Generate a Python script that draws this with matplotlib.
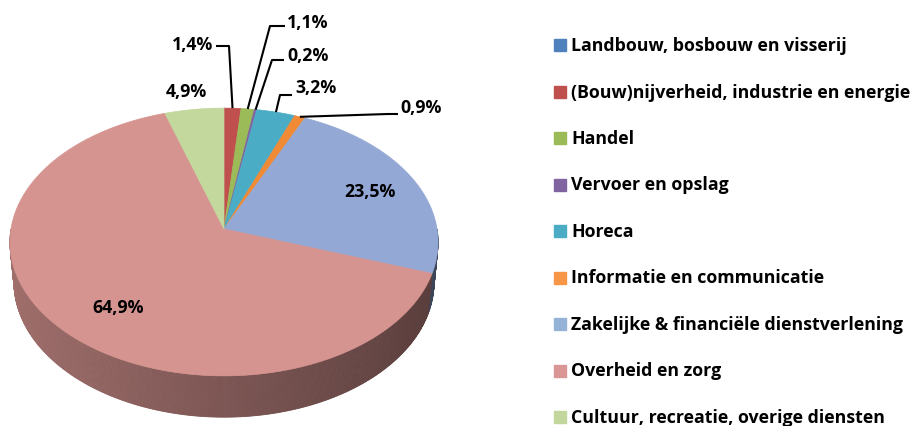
import numpy as np
import matplotlib
matplotlib.use("Agg")
import matplotlib.pyplot as plt
from matplotlib.patches import Rectangle

sectoren = ["Landbouw, bosbouw en visserij",
            "(Bouw)nijverheid, industrie en energie",
            "Handel",
            "Vervoer en opslag",
            "Horeca",
            "Informatie en communicatie",
            "Zakelijke & financiële dienstverlening",
            "Overheid en zorg",
            "Cultuur, recreatie, overige diensten"]
aandeel = [0.0, 1.4, 1.1, 0.2, 3.2, 0.9, 23.5, 64.9, 4.9]
labels = ["", "1,4%", "1,1%", "0,2%", "3,2%", "0,9%", "23,5%", "64,9%", "4,9%"]
kleur_legenda = ["#4F81BD", "#C0504D", "#9BBB59", "#8064A2", "#4BACC6",
                 "#F79646", "#95B3D7", "#D99694", "#C3D69B"]
kleur_boven = ["#4F81BD", "#C0504D", "#9BBB59", "#8064A2", "#4BACC6",
               "#F08A35", "#93A8D4", "#D69490", "#C2D89C"]

# 3d-pie projection (perspective, camera tilted down)
alpha = np.radians(38.5)
D = 8.06
f = 1717.0
dikte = 0.245
cx, cy = 224, 230


def proj(theta, z=0.0):
    x = np.sin(theta)
    y = np.cos(theta)
    depth = D + y * np.cos(alpha) - z * np.sin(alpha)
    v = y * np.sin(alpha) + z * np.cos(alpha)
    return cx + x * f / depth, cy - v * f / depth


fig = plt.figure(figsize=(9.14, 4.27), dpi=100)
ax = fig.add_axes([0, 0, 1, 1])
ax.set_xlim(0, 914)
ax.set_ylim(427, 0)
ax.axis("off")

frac = np.array(aandeel) / sum(aandeel)
grenzen = np.concatenate([[0], np.cumsum(frac)]) * 2 * np.pi


def schaduw(hexkleur, factor):
    rgb = np.array(matplotlib.colors.to_rgb(hexkleur))
    return tuple(np.clip(rgb * factor, 0, 1))


# side wall (front half only)
stap = np.radians(0.5)
for i in range(len(aandeel)):
    a0, a1 = grenzen[i], grenzen[i + 1]
    lo, hi = max(a0, np.pi / 2), min(a1, 3 * np.pi / 2)
    if hi <= lo:
        continue
    t = np.arange(lo, hi, stap)
    t = np.append(t, hi)
    for ta, tb in zip(t[:-1], t[1:]):
        xa, ya = proj(ta)
        xb, yb = proj(tb)
        xc, yc = proj(tb, -dikte)
        xd, yd = proj(ta, -dikte)
        fac = 0.58 - 0.17 * np.sin((ta + tb) / 2)
        ax.fill([xa, xb, xc, xd], [ya, yb, yc, yd],
                color=schaduw(kleur_boven[i], fac), lw=0.6,
                ec=schaduw(kleur_boven[i], fac))

# top face
for i in range(len(aandeel)):
    a0, a1 = grenzen[i], grenzen[i + 1]
    if a1 - a0 <= 0:
        continue
    t = np.linspace(a0, a1, max(3, int(np.degrees(a1 - a0)) * 2))
    px, py = proj(t)
    ax.fill(np.concatenate([[cx], px]), np.concatenate([[cy], py]),
            color=kleur_boven[i], ec=kleur_boven[i], lw=0.5)

lettertype = dict(family=["Open Sans", "DejaVu Sans"], fontweight="bold",
                  fontsize=12.8, color="black")

# labels inside
ax.text(370, 192, labels[6], ha="center", va="center", **lettertype)
ax.text(118, 308, labels[7], ha="center", va="center", **lettertype)
ax.text(186, 92, labels[8], ha="center", va="center", **lettertype)

# labels with leader lines: (index, text x, text y, ha, elbow points)
leiders = [
    (1, 213, 45, "right", [(216, 47), (229, 47)]),
    (2, 287, 23, "left", [(285, 27), (270, 27)]),
    (3, 287, 56, "left", [(284, 61), (272, 61)]),
    (4, 295, 88, "left", [(292, 96), (280, 96)]),
    (5, 400, 108, "left", [(398, 115), (388, 115)]),
]
for i, tx, ty, ha, knik in leiders:
    mid = (grenzen[i] + grenzen[i + 1]) / 2
    axp, ayp = proj(mid)
    xs = [p[0] for p in knik] + [axp]
    ys = [p[1] for p in knik] + [ayp]
    ax.plot(xs, ys, color="black", lw=1.5, solid_capstyle="butt")
    ax.text(tx, ty, labels[i], ha=ha, va="center", **lettertype)

# legend
for k, naam in enumerate(sectoren):
    y = 46 + k * 46.5
    ax.add_patch(Rectangle((554, y - 6), 12, 12, color=kleur_legenda[k]))
    ax.text(571, y, naam, ha="left", va="center", **lettertype)

fig.savefig("out.png", dpi=100)
